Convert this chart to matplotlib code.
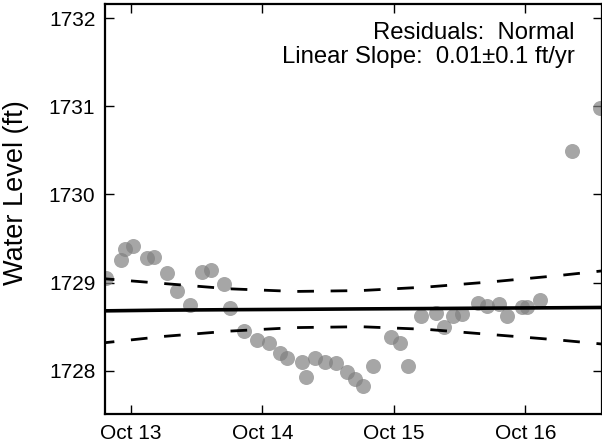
import numpy as np
import matplotlib
matplotlib.use("Agg")
import matplotlib.pyplot as plt
import matplotlib.dates as mdates

plt.rcParams['font.family'] = ['Liberation Sans', 'DejaVu Sans']

# hours after Oct 13 00:00 and water level (ft)
start = np.datetime64('2015-10-13T00:00')
obs_hours = [-4.5, -1.8, -1.0, 0.4, 2.9, 4.3, 6.6, 8.5, 10.8, 13.0, 14.6, 17.1,
             18.1, 20.7, 23.1, 25.2, 27.2, 28.5, 31.3, 31.9, 33.7, 35.4, 37.4,
             39.4, 41.0, 42.4, 44.2, 47.4, 49.2, 50.5, 52.9, 55.6, 57.1, 58.7,
             60.5, 63.4, 65.0, 67.2, 68.7, 71.3, 72.3, 74.6, 80.5, 85.6]
obs_level = [1729.05, 1729.26, 1729.38, 1729.42, 1729.28, 1729.29, 1729.11,
             1728.91, 1728.75, 1729.12, 1729.14, 1728.99, 1728.71, 1728.45,
             1728.35, 1728.31, 1728.20, 1728.15, 1728.10, 1727.93, 1728.14,
             1728.10, 1728.09, 1727.99, 1727.91, 1727.83, 1728.06, 1728.38,
             1728.32, 1728.05, 1728.62, 1728.65, 1728.50, 1728.62, 1728.64,
             1728.77, 1728.73, 1728.76, 1728.62, 1728.72, 1728.72, 1728.80,
             1730.49, 1730.98]

# linear fit and confidence band
fit_hours = [-6, 6, 18, 30, 42, 54, 66, 78, 90]
fit_level = [1728.679, 1728.688, 1728.693, 1728.697, 1728.702,
             1728.706, 1728.711, 1728.715, 1728.720]
band_upper = [1729.05, 1728.99, 1728.93, 1728.90, 1728.91,
              1728.95, 1729.01, 1729.08, 1729.16]
band_lower = [1728.31, 1728.39, 1728.45, 1728.49, 1728.50,
              1728.47, 1728.41, 1728.35, 1728.28]

def to_time(hours):
    return start + (np.array(hours) * 60).astype(int).astype('timedelta64[m]')

fig = plt.figure(figsize=(6.02, 4.48), dpi=100)
ax = fig.add_axes([0.1744, 0.0759, 0.8251, 0.9151])

ax.plot(to_time(obs_hours), obs_level, 'o', color='gray', alpha=0.7,
        markersize=10.8, markeredgewidth=0, zorder=2)
ax.plot(to_time(fit_hours), fit_level, color='black', lw=2.6, zorder=3)
ax.plot(to_time(fit_hours), band_upper, color='black', lw=2, dashes=(6, 6), zorder=3)
ax.plot(to_time(fit_hours), band_lower, color='black', lw=2, dashes=(6, 6), zorder=3)

ax.set_xlim(to_time([-4.69])[0], to_time([85.9])[0])
ax.set_ylim(1727.51, 1732.16)
ax.set_yticks([1728, 1729, 1730, 1731, 1732])
ax.xaxis.set_major_locator(mdates.DayLocator())
ax.xaxis.set_major_formatter(mdates.DateFormatter('%b %d'))

ax.tick_params(direction='in', length=6.5, width=1, top=True, right=True,
               labelsize=15, pad=7)
for s in ax.spines.values():
    s.set_linewidth(1.6)

ax.set_ylabel('Water Level (ft)', fontsize=19.5)
ax.yaxis.set_label_coords(-0.153, 0.54)

ax.text(0.946, 0.955, 'Residuals:  Normal\nLinear Slope:  0.01\u00b10.1 ft/yr',
        transform=ax.transAxes, ha='right', va='top', fontsize=17.2,
        linespacing=1.1)

fig.savefig('out.png', dpi=100)
